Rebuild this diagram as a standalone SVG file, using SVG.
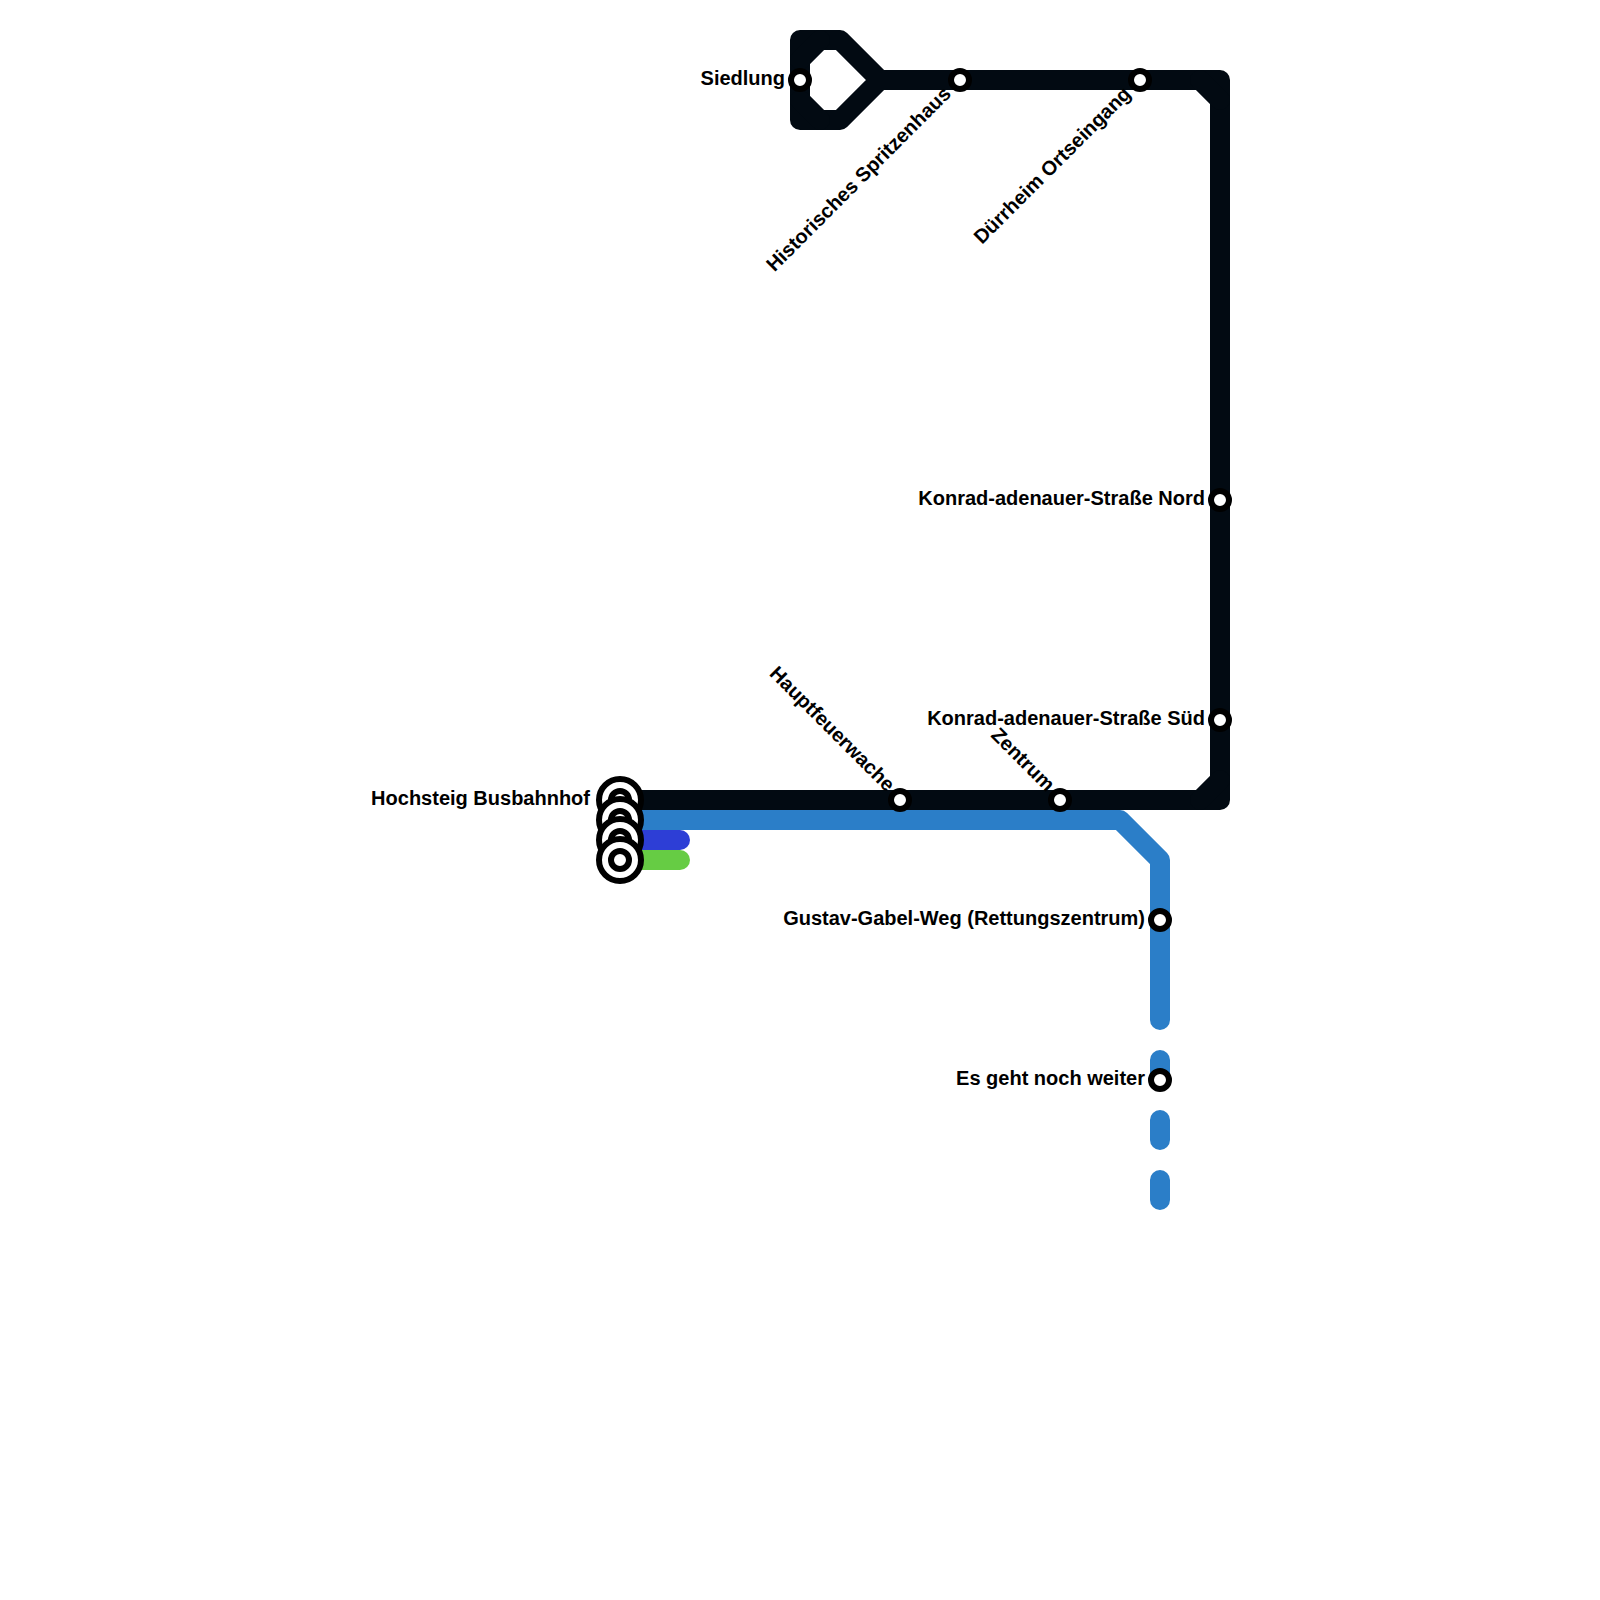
<svg xmlns="http://www.w3.org/2000/svg" width="1600" height="1600" viewBox="0 0 1600 1600">
<style>
.l{fill:none;stroke-width:20;stroke-linecap:round;stroke-linejoin:round}
.k{stroke:#020a12}.b{stroke:#2b7ec8}.i{stroke:#2d3ed6}.g{stroke:#66cc44}
.o{fill:#fff;stroke:#000;stroke-width:6}
.s{fill:#fff;stroke:#000;stroke-width:6}
text{font-family:"Liberation Sans",Arial,sans-serif;font-weight:700;font-size:20px;fill:#000;text-anchor:end}
</style>
<rect width="1600" height="1600" fill="#fff"/>
<g id="connectors">
<path class="l g" d="M620 860H680"/>
<path class="l i" d="M620 840H680"/>
<path class="l b" d="M620 820H1120L1160 860V1020"/>
<path class="l b" d="M1160 1060V1200" stroke-dasharray="20 40"/>
<path class="l k" d="M620 800H1220V80H880L840 120H800V40H840L880 80"/>
<path class="l k" d="M1200 800L1220 780M1200 80L1220 100M800 60L820 40M800 100L820 120"/>
</g>
<g id="hochsteig-1"><circle class="o" cx="620" cy="800" r="21"/><circle class="s" cx="620" cy="800" r="9"/></g>
<g id="hochsteig-2"><circle class="o" cx="620" cy="820" r="21"/><circle class="s" cx="620" cy="820" r="9"/></g>
<g id="hochsteig-3"><circle class="o" cx="620" cy="840" r="21"/><circle class="s" cx="620" cy="840" r="9"/></g>
<g id="hochsteig-4"><circle class="o" cx="620" cy="860" r="21"/><circle class="s" cx="620" cy="860" r="9"/><text x="590" y="805">Hochsteig Busbahnhof</text></g>
<g id="siedlung"><circle class="s" cx="800" cy="80" r="9"/><text x="785" y="85">Siedlung</text></g>
<g id="spritzenhaus"><circle class="s" cx="960" cy="80" r="9"/><text transform="translate(952 95) rotate(-45)">Historisches Spritzenhaus</text></g>
<g id="ortseingang"><circle class="s" cx="1140" cy="80" r="9"/><text transform="translate(1132 95) rotate(-45)">Dürrheim Ortseingang</text></g>
<g id="konrad-nord"><circle class="s" cx="1220" cy="500" r="9"/><text x="1205" y="505">Konrad-adenauer-Straße Nord</text></g>
<g id="konrad-sued"><circle class="s" cx="1220" cy="720" r="9"/><text x="1205" y="725">Konrad-adenauer-Straße Süd</text></g>
<g id="hauptfeuerwache"><circle class="s" cx="900" cy="800" r="9"/><text transform="translate(886.5 792.5) rotate(45)">Hauptfeuerwache</text></g>
<g id="zentrum"><circle class="s" cx="1060" cy="800" r="9"/><text transform="translate(1046.5 792.5) rotate(45)">Zentrum</text></g>
<g id="gustav"><circle class="s" cx="1160" cy="920" r="9"/><text x="1145" y="925">Gustav-Gabel-Weg (Rettungszentrum)</text></g>
<g id="weiter"><circle class="s" cx="1160" cy="1080" r="9"/><text x="1145" y="1085">Es geht noch weiter</text></g>
</svg>
